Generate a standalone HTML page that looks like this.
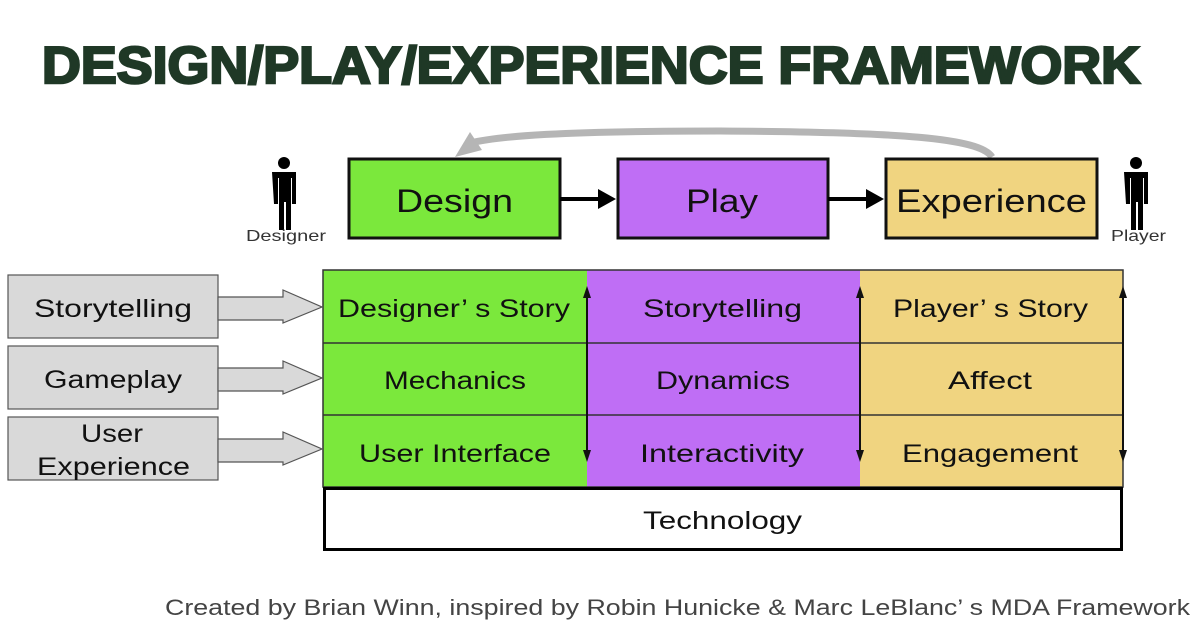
<!DOCTYPE html>
<html><head><meta charset="utf-8"><style>
html,body{margin:0;padding:0;background:#fff;}
svg{display:block;}
text{font-family:"Liberation Sans",sans-serif;}
</style></head><body>
<svg width="1200" height="630" viewBox="0 0 1200 630" xmlns="http://www.w3.org/2000/svg">
<rect width="1200" height="630" fill="#fff"/>
<text x="42" y="83" font-size="52" font-weight="bold" fill="#1f3826" textLength="1098" lengthAdjust="spacingAndGlyphs" stroke="#1f3826" stroke-width="2.5">DESIGN/PLAY/EXPERIENCE FRAMEWORK</text>

<path d="M992,157 C980,138 900,132 720,131 C560,131 500,136 470,143" fill="none" stroke="#b5b5b5" stroke-width="7"/>
<polygon points="455,157 470,132 482,150" fill="#b5b5b5"/>

<rect x="349" y="159" width="211" height="79" fill="#7be83c" stroke="#111" stroke-width="3"/>
<text x="396" y="212" font-size="32" fill="#111" textLength="117" lengthAdjust="spacingAndGlyphs">Design</text>
<rect x="618" y="159" width="210" height="79" fill="#bf6ef5" stroke="#111" stroke-width="3"/>
<text x="686" y="212" font-size="32" fill="#111" textLength="72" lengthAdjust="spacingAndGlyphs">Play</text>
<rect x="886" y="159" width="211" height="79" fill="#f0d480" stroke="#111" stroke-width="3"/>
<text x="896" y="212" font-size="32" fill="#111" textLength="191" lengthAdjust="spacingAndGlyphs">Experience</text>
<line x1="560" y1="199" x2="600" y2="199" stroke="#000" stroke-width="4"/>
<polygon points="598,189 616,199 598,209" fill="#000"/>
<line x1="828" y1="199" x2="868" y2="199" stroke="#000" stroke-width="4"/>
<polygon points="866,189 884,199 866,209" fill="#000"/>

<g fill="#000">
<circle cx="284" cy="163" r="6"/>
<path d="M272,172 h24 v32 h-4 v-26 h-1 v52 h-5 v-28 h-2 v28 h-5 v-52 h-1 v26 h-4 z"/>
<circle cx="1136" cy="163" r="6"/>
<path d="M1124,172 h24 v32 h-4 v-26 h-1 v52 h-5 v-28 h-2 v28 h-5 v-52 h-1 v26 h-4 z"/>
</g>
<text x="246" y="241" font-size="16" fill="#333" textLength="80" lengthAdjust="spacingAndGlyphs">Designer</text>
<text x="1111" y="241" font-size="16" fill="#333" textLength="55" lengthAdjust="spacingAndGlyphs">Player</text>

<rect x="323" y="270" width="264" height="217" fill="#7be83c"/>
<rect x="587" y="270" width="273" height="217" fill="#bf6ef5"/>
<rect x="860" y="270" width="263" height="217" fill="#f0d480"/>
<g stroke="#333" stroke-width="1.5" fill="none">
<rect x="323" y="270" width="800" height="217"/>
<line x1="323" y1="343" x2="1123" y2="343"/>
<line x1="323" y1="415" x2="1123" y2="415"/>
</g>
<g stroke="#111" stroke-width="2">
<line x1="587" y1="290" x2="587" y2="458"/>
<line x1="860" y1="290" x2="860" y2="458"/>
<line x1="1123" y1="290" x2="1123" y2="458"/>
</g>
<g fill="#111">
<polygon points="587,286 583,298 591,298"/><polygon points="587,462 583,450 591,450"/>
<polygon points="860,286 856,298 864,298"/><polygon points="860,462 856,450 864,450"/>
<polygon points="1123,286 1119,298 1127,298"/><polygon points="1123,462 1119,450 1127,450"/>
</g>
<g font-size="25" fill="#111">
<text x="338" y="317" textLength="232" lengthAdjust="spacingAndGlyphs">Designer’ s Story</text>
<text x="643" y="317" textLength="159" lengthAdjust="spacingAndGlyphs">Storytelling</text>
<text x="893" y="317" textLength="195" lengthAdjust="spacingAndGlyphs">Player’ s Story</text>
<text x="384" y="389" textLength="142" lengthAdjust="spacingAndGlyphs">Mechanics</text>
<text x="656" y="389" textLength="134" lengthAdjust="spacingAndGlyphs">Dynamics</text>
<text x="948" y="389" textLength="84" lengthAdjust="spacingAndGlyphs">Affect</text>
<text x="359" y="462" textLength="192" lengthAdjust="spacingAndGlyphs">User Interface</text>
<text x="640" y="462" textLength="164" lengthAdjust="spacingAndGlyphs">Interactivity</text>
<text x="902" y="462" textLength="176" lengthAdjust="spacingAndGlyphs">Engagement</text>
</g>

<rect x="324.5" y="488.5" width="797" height="61" fill="#fff" stroke="#000" stroke-width="3"/>
<text x="643" y="529" font-size="25" fill="#111" textLength="159" lengthAdjust="spacingAndGlyphs">Technology</text>

<g fill="#d9d9d9" stroke="#555" stroke-width="1.2">
<rect x="8" y="275" width="210" height="63"/>
<rect x="8" y="346" width="210" height="63"/>
<rect x="8" y="417" width="210" height="63"/>
<polygon points="218,297 283,297 283,290 322,307 283,323 283,320 218,320"/>
<polygon points="218,368 283,368 283,361 322,378 283,394 283,391 218,391"/>
<polygon points="218,439 283,439 283,432 322,449 283,465 283,462 218,462"/>
</g>
<g font-size="25" fill="#111">
<text x="34" y="317" textLength="158" lengthAdjust="spacingAndGlyphs">Storytelling</text>
<text x="44" y="388" textLength="138" lengthAdjust="spacingAndGlyphs">Gameplay</text>
<text x="81" y="442" textLength="62" lengthAdjust="spacingAndGlyphs">User</text>
<text x="37" y="475" textLength="153" lengthAdjust="spacingAndGlyphs">Experience</text>
</g>

<text x="165" y="615" font-size="22" fill="#444" textLength="1025" lengthAdjust="spacingAndGlyphs">Created by Brian Winn, inspired by Robin Hunicke &amp; Marc LeBlanc’ s MDA Framework</text>
</svg>
</body></html>
